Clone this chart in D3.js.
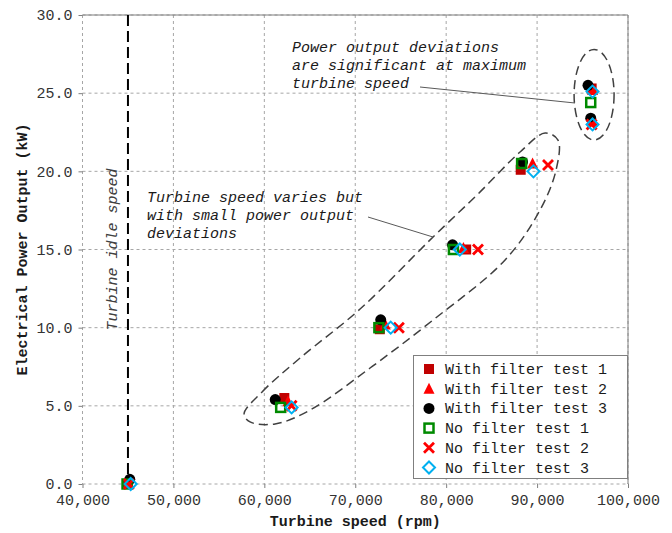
<!DOCTYPE html>
<html>
<head>
<meta charset="utf-8">
<script src="https://cdn.jsdelivr.net/npm/d3@7/dist/d3.min.js"></script>
<style>
  html, body { margin: 0; padding: 0; background: #fff; }
  svg { display: block; }
  text { font-family: "Liberation Mono", "Courier New", monospace; }
</style>
</head>
<body>
<svg id="chart" width="672" height="533"></svg>
<script>
// Turbine speed (rpm) vs electrical power output (kW), per test run
const withFilter1 = [[45000, 0], [62200, 5.5], [72700, 9.9], [82200, 15.0], [88200, 20.1], [96000, 25.3]];
const withFilter2 = [[45000, 0], [62600, 5.3], [73300, 10.2], [81900, 15.1], [89500, 20.5], [96100, 25.2], [96100, 23.2]];
const withFilter3 = [[45200, 0.3], [61200, 5.4], [72800, 10.5], [80700, 15.3], [88400, 20.6], [95600, 25.5], [95900, 23.4]];
const noFilter1 = [[44900, 0], [61800, 4.9], [72600, 10.0], [80800, 15.0], [88300, 20.5], [95900, 24.4]];
const noFilter2 = [[45100, 0], [63000, 5.0], [74800, 10.0], [83500, 15.0], [91200, 20.4], [96000, 23.0]];
const noFilter3 = [[45300, 0], [63000, 4.9], [73900, 10.0], [81500, 15.0], [89600, 20.0], [96100, 25.1], [96100, 23.0]];

const seriesNames = ["With filter test 1", "With filter test 2", "With filter test 3",
                     "No filter test 1", "No filter test 2", "No filter test 3"];
const xTicks = [40000, 50000, 60000, 70000, 80000, 90000, 100000];
const yTicks = [0, 5, 10, 15, 20, 25, 30];
const idleSpeed = 45000;

// outline (rpm, kW) around the part-load operating points
const partLoadOutline = [
  [57770, 4.48], [59750, 5.89], [63930, 8.06], [70530, 11.19], [78560, 15.80],
  [83500, 18.55], [88130, 21.24], [90880, 22.45], [92300, 22.00], [92090, 20.09],
  [90330, 17.53], [86480, 14.33], [78560, 10.49], [71630, 7.42], [65030, 4.73],
  [61180, 3.84], [58430, 3.97]
];
// full-load group: centre (rpm, kW) and half extents (rpm, kW)
const fullLoadCentre = [96270, 24.9];
const fullLoadHalf = [2200, 2.9];

const series = [
  { name: seriesNames[0], data: withFilter1, shape: "square",   color: "#c00000", fill: true },
  { name: seriesNames[1], data: withFilter2, shape: "triangle", color: "#ff0000", fill: true },
  { name: seriesNames[2], data: withFilter3, shape: "circle",   color: "#000000", fill: true },
  { name: seriesNames[3], data: noFilter1,   shape: "square",   color: "#008a00", fill: false },
  { name: seriesNames[4], data: noFilter2,   shape: "cross",    color: "#ff0000", fill: false },
  { name: seriesNames[5], data: noFilter3,   shape: "diamond",  color: "#00b0f0", fill: false }
];

const svg = d3.select("#chart");
const plotL = 82.5, plotR = 628, plotT = 15, plotB = 484;

const x = d3.scaleLinear().domain([40000, 100000]).range([plotL, plotR]);
const y = d3.scaleLinear().domain([0, 30]).range([plotB, plotT]);

// grid
const grid = svg.append("g");
grid.selectAll("line.gx").data(xTicks).join("line")
  .attr("x1", d => x(d)).attr("x2", d => x(d))
  .attr("y1", plotT).attr("y2", plotB)
  .attr("stroke", "#a6a6a6").attr("stroke-width", 1).attr("stroke-dasharray", "3,3");
grid.selectAll("line.gy").data(yTicks).join("line")
  .attr("x1", plotL).attr("x2", plotR)
  .attr("y1", d => y(d)).attr("y2", d => y(d))
  .attr("stroke", "#a6a6a6").attr("stroke-width", 1).attr("stroke-dasharray", "3,3");

// top and right frame
svg.append("path")
  .attr("d", `M${plotL},${plotT}H${plotR}V${plotB}`)
  .attr("fill", "none").attr("stroke", "#7f7f7f").attr("stroke-width", 1);

// axes
const xAxis = d3.axisBottom(x).tickValues(xTicks).tickFormat(d3.format(",")).tickSize(4).tickPadding(6);
const yAxis = d3.axisLeft(y).tickValues(yTicks).tickFormat(d3.format(".1f")).tickSize(4).tickPadding(6);

const gx = svg.append("g").attr("transform", `translate(0,${plotB})`).call(xAxis);
const gy = svg.append("g").attr("transform", `translate(${plotL},0)`).call(yAxis);
[gx, gy].forEach(g => {
  g.select(".domain").remove();
  g.selectAll(".tick line").attr("stroke", "#7f7f7f");
  g.selectAll(".tick text").attr("font-size", 15).attr("fill", "#333")
    .attr("font-family", "Liberation Mono, Courier New, monospace");
});

// axis titles
svg.append("text")
  .attr("x", (plotL + plotR) / 2).attr("y", 526)
  .attr("text-anchor", "middle").attr("font-size", 15).attr("font-weight", "bold")
  .attr("fill", "#1a1a1a").text("Turbine speed (rpm)");
svg.append("text")
  .attr("transform", `translate(27,${(plotT + plotB) / 2}) rotate(-90)`)
  .attr("text-anchor", "middle").attr("font-size", 15).attr("font-weight", "bold")
  .attr("fill", "#1a1a1a").text("Electrical Power Output (kW)");

// idle speed marker
svg.append("line")
  .attr("x1", x(idleSpeed)).attr("x2", x(idleSpeed))
  .attr("y1", plotT).attr("y2", plotB)
  .attr("stroke", "#000").attr("stroke-width", 2).attr("stroke-dasharray", "11,5");
svg.append("text")
  .attr("transform", `translate(117,${(plotT + plotB) / 2}) rotate(-90)`)
  .attr("text-anchor", "middle").attr("font-size", 15).attr("font-style", "italic")
  .attr("fill", "#404040").text("Turbine idle speed");

// group outlines
const ann = svg.append("g").attr("fill", "none").attr("stroke", "#404040")
  .attr("stroke-width", 1.5).attr("stroke-dasharray", "9,5");
ann.append("path")
  .attr("d", d3.line().x(d => x(d[0])).y(d => y(d[1])).curve(d3.curveCatmullRomClosed.alpha(0.5))(partLoadOutline));
ann.append("ellipse")
  .attr("cx", x(fullLoadCentre[0])).attr("cy", y(fullLoadCentre[1]))
  .attr("rx", x(fullLoadCentre[0] + fullLoadHalf[0]) - x(fullLoadCentre[0]))
  .attr("ry", y(fullLoadCentre[1]) - y(fullLoadCentre[1] + fullLoadHalf[1]));

// leader lines
svg.append("line").attr("x1", 420).attr("y1", 87).attr("x2", 575).attr("y2", 103)
  .attr("stroke", "#595959").attr("stroke-width", 1);
svg.append("line").attr("x1", 368).attr("y1", 217).attr("x2", 433).attr("y2", 237)
  .attr("stroke", "#595959").attr("stroke-width", 1);

// annotation texts
function noteLines(x0, y0, lines) {
  const t = svg.append("text").attr("font-size", 15).attr("font-style", "italic").attr("fill", "#1a1a1a");
  lines.forEach((s, i) => t.append("tspan").attr("x", x0).attr("y", y0 + i * 18).text(s));
}
noteLines(292, 52, ["Power output deviations", "are significant at maximum", "turbine speed"]);
noteLines(147, 202, ["Turbine speed varies but", "with small power output", "deviations"]);

// markers
function drawMarker(g, s, cx, cy) {
  const sw = s.fill ? 0 : 2.5;
  if (s.shape === "square") {
    const a = s.fill ? 10 : 9;
    g.append("rect").attr("x", cx - a / 2).attr("y", cy - a / 2).attr("width", a).attr("height", a)
      .attr("fill", s.fill ? s.color : "none").attr("stroke", s.fill ? "none" : s.color).attr("stroke-width", sw);
  } else if (s.shape === "circle") {
    g.append("circle").attr("cx", cx).attr("cy", cy).attr("r", 5.5).attr("fill", s.color);
  } else if (s.shape === "triangle") {
    g.append("path").attr("d", `M${cx},${cy - 6}L${cx + 5.5},${cy + 5}L${cx - 5.5},${cy + 5}Z`).attr("fill", s.color);
  } else if (s.shape === "cross") {
    const r = 5;
    g.append("path").attr("d", `M${cx - r},${cy - r}L${cx + r},${cy + r}M${cx + r},${cy - r}L${cx - r},${cy + r}`)
      .attr("stroke", s.color).attr("stroke-width", 2.8).attr("fill", "none");
  } else if (s.shape === "diamond") {
    const r = 6;
    g.append("path").attr("d", `M${cx},${cy - r}L${cx + r},${cy}L${cx},${cy + r}L${cx - r},${cy}Z`)
      .attr("stroke", s.color).attr("stroke-width", 2).attr("fill", "none");
  }
}

series.forEach(s => {
  const g = svg.append("g");
  s.data.forEach(d => drawMarker(g, s, x(d[0]), y(d[1])));
});

// legend
const lg = svg.append("g");
lg.append("rect").attr("x", 413.5).attr("y", 355.5).attr("width", 214).attr("height", 123)
  .attr("fill", "#fff").attr("stroke", "#7f7f7f").attr("stroke-width", 1);
series.forEach((s, i) => {
  const cy = 369 + i * 19.7;
  drawMarker(lg, s, 429, cy);
  lg.append("text").attr("x", 445).attr("y", cy + 5).attr("font-size", 15).attr("fill", "#1a1a1a").text(s.name);
});
</script>
</body>
</html>
